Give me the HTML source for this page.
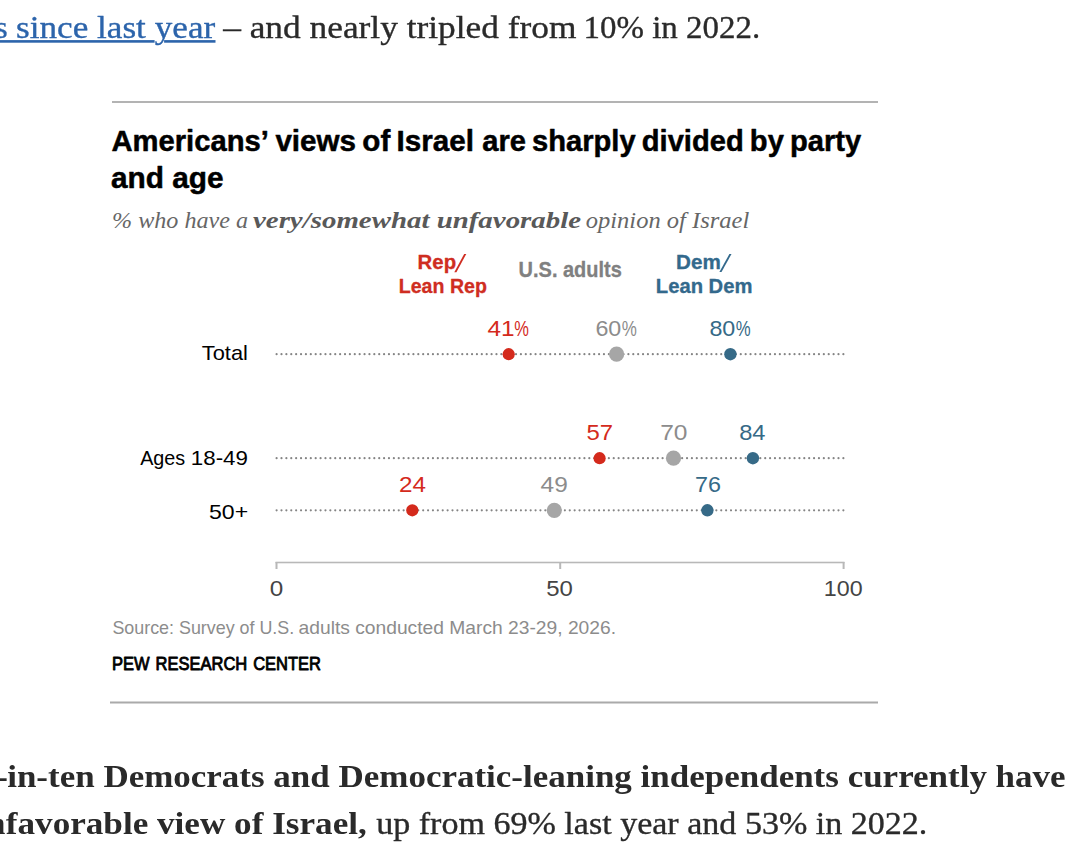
<!DOCTYPE html>
<html><head><meta charset="utf-8">
<style>
html,body{margin:0;padding:0;background:#fff;width:1080px;height:844px;overflow:hidden;}
svg{display:block;position:absolute;left:0;top:0;}
.gs{will-change:transform;}
</style></head><body>
<svg width="1080" height="844" viewBox="0 0 1080 844">

<rect x="112" y="101" width="766" height="2" fill="#b3b3b3"/>
<polygon points="454.3,272.2 456.4,272.2 466.3,253.9 464.2,253.9" fill="#cf2d21"/>
<polygon points="719.4,271.9 721.5,271.9 731.5,254.1 729.4,254.1" fill="#33698c"/>
<rect x="110" y="701.5" width="768" height="2" fill="#aaaaaa"/>
<g stroke="#858585" stroke-width="2.2" stroke-linecap="round" stroke-dasharray="0 4.886">
<line x1="276.6" y1="354.2" x2="844" y2="354.2"/>
<line x1="276.6" y1="458.2" x2="844" y2="458.2"/>
<line x1="276.6" y1="510.3" x2="844" y2="510.3"/>
</g>
<circle cx="508.7" cy="354.2" r="6.1" fill="#d42a1c"/>
<circle cx="616.6" cy="354.2" r="7.6" fill="#a6a6a6"/>
<circle cx="730.4" cy="354.2" r="6.2" fill="#366a87"/>
<circle cx="599.6" cy="458.2" r="6.1" fill="#d42a1c"/>
<circle cx="673.5" cy="458.2" r="7.6" fill="#a6a6a6"/>
<circle cx="752.9" cy="458.2" r="6.2" fill="#366a87"/>
<circle cx="412.3" cy="510.3" r="6.1" fill="#d42a1c"/>
<circle cx="554.3" cy="510.3" r="7.6" fill="#a6a6a6"/>
<circle cx="707.4" cy="510.3" r="6.2" fill="#366a87"/>
<g fill="#b8b8b8">
<rect x="275.5" y="561.7" width="569" height="1.6"/>
<rect x="275.5" y="562" width="2" height="7"/>
<rect x="559.2" y="562" width="2" height="7"/>
<rect x="842.6" y="562" width="2" height="7"/>
</g>

<text id="title1a" x="111.40" y="151.00" font-family="'Liberation Sans', sans-serif" font-size="30" fill="#000000" font-weight="bold" stroke="#000000" stroke-width="0.5" stroke-linejoin="round" textLength="157.45" lengthAdjust="spacingAndGlyphs">Americans’</text>
<text id="title1c" x="275.40" y="151.00" font-family="'Liberation Sans', sans-serif" font-size="30" fill="#000000" font-weight="bold" stroke="#000000" stroke-width="0.5" stroke-linejoin="round" textLength="198.61" lengthAdjust="spacingAndGlyphs" word-spacing="-2">views of Israel</text>
<text id="title1b" x="482.20" y="151.00" font-family="'Liberation Sans', sans-serif" font-size="30" fill="#000000" font-weight="bold" stroke="#000000" stroke-width="0.5" stroke-linejoin="round" textLength="379.01" lengthAdjust="spacingAndGlyphs" word-spacing="-2">are sharply divided by party</text>
<text id="title2" x="111.00" y="188.20" font-family="'Liberation Sans', sans-serif" font-size="30" fill="#000000" font-weight="bold" stroke="#000000" stroke-width="0.5" stroke-linejoin="round" textLength="112.63" lengthAdjust="spacingAndGlyphs">and age</text>
<text id="sub1" x="112.00" y="227.60" font-family="'Liberation Serif', serif" font-size="23.5" fill="#666666" font-style="italic" textLength="136.03" lengthAdjust="spacingAndGlyphs">% who have a</text>
<text id="sub2" x="253.00" y="227.60" font-family="'Liberation Serif', serif" font-size="23.5" fill="#595959" font-weight="bold" font-style="italic" textLength="328.01" lengthAdjust="spacingAndGlyphs">very/somewhat unfavorable</text>
<text id="sub3" x="585.80" y="227.60" font-family="'Liberation Serif', serif" font-size="23.5" fill="#666666" font-style="italic" textLength="163.41" lengthAdjust="spacingAndGlyphs">opinion of Israel</text>
<text id="rep1" x="417.60" y="268.50" font-family="'Liberation Sans', sans-serif" font-size="21" fill="#cf2d21" font-weight="bold" stroke="#cf2d21" stroke-width="0.3" stroke-linejoin="round" textLength="38.54" lengthAdjust="spacingAndGlyphs">Rep</text>
<text id="rep2" x="398.80" y="293.00" font-family="'Liberation Sans', sans-serif" font-size="21" fill="#cf2d21" font-weight="bold" stroke="#cf2d21" stroke-width="0.3" stroke-linejoin="round" textLength="88.04" lengthAdjust="spacingAndGlyphs">Lean Rep</text>
<text id="us" x="518.60" y="276.70" font-family="'Liberation Sans', sans-serif" font-size="21.5" fill="#808080" font-weight="bold" stroke="#808080" stroke-width="0.3" stroke-linejoin="round" textLength="103.22" lengthAdjust="spacingAndGlyphs">U.S. adults</text>
<text id="dem1" x="676.00" y="268.60" font-family="'Liberation Sans', sans-serif" font-size="21" fill="#33698c" font-weight="bold" stroke="#33698c" stroke-width="0.3" stroke-linejoin="round" textLength="44.74" lengthAdjust="spacingAndGlyphs">Dem</text>
<text id="dem2" x="655.80" y="293.30" font-family="'Liberation Sans', sans-serif" font-size="21" fill="#33698c" font-weight="bold" stroke="#33698c" stroke-width="0.3" stroke-linejoin="round" textLength="96.66" lengthAdjust="spacingAndGlyphs">Lean Dem</text>
<text id="total" x="201.80" y="360.20" font-family="'Liberation Sans', sans-serif" font-size="21" fill="#000000" textLength="46.11" lengthAdjust="spacingAndGlyphs">Total</text>
<text id="ages" x="140.20" y="465.30" font-family="'Liberation Sans', sans-serif" font-size="21" fill="#000000" textLength="45.04" lengthAdjust="spacingAndGlyphs">Ages</text>
<text id="ages2" x="190.80" y="465.30" font-family="'Liberation Sans', sans-serif" font-size="21" fill="#000000" textLength="57.13" lengthAdjust="spacingAndGlyphs">18-49</text>
<text id="fifty" x="209.00" y="519.40" font-family="'Liberation Sans', sans-serif" font-size="21" fill="#000000" textLength="39.13" lengthAdjust="spacingAndGlyphs">50+</text>
<text id="l41" x="487.40" y="335.80" font-family="'Liberation Sans', sans-serif" font-size="22" fill="#d42a1c" textLength="27.13" lengthAdjust="spacingAndGlyphs">41</text>
<text id="l41p" x="514.20" y="335.80" font-family="'Liberation Sans', sans-serif" font-size="21.5" fill="#d42a1c" textLength="14.65" lengthAdjust="spacingAndGlyphs">%</text>
<text id="l60" x="595.40" y="335.80" font-family="'Liberation Sans', sans-serif" font-size="22" fill="#8c8c8c" textLength="25.89" lengthAdjust="spacingAndGlyphs">60</text>
<text id="l60p" x="621.80" y="335.80" font-family="'Liberation Sans', sans-serif" font-size="21.5" fill="#8c8c8c" textLength="15.11" lengthAdjust="spacingAndGlyphs">%</text>
<text id="l80" x="709.40" y="335.80" font-family="'Liberation Sans', sans-serif" font-size="22" fill="#366a87" textLength="25.89" lengthAdjust="spacingAndGlyphs">80</text>
<text id="l80p" x="735.80" y="335.80" font-family="'Liberation Sans', sans-serif" font-size="21.5" fill="#366a87" textLength="14.89" lengthAdjust="spacingAndGlyphs">%</text>
<text id="l57" x="586.40" y="440.30" font-family="'Liberation Sans', sans-serif" font-size="22" fill="#d42a1c" textLength="26.62" lengthAdjust="spacingAndGlyphs">57</text>
<text id="l70" x="660.20" y="440.30" font-family="'Liberation Sans', sans-serif" font-size="22" fill="#8c8c8c" textLength="27.30" lengthAdjust="spacingAndGlyphs">70</text>
<text id="l84" x="739.20" y="440.30" font-family="'Liberation Sans', sans-serif" font-size="22" fill="#366a87" textLength="26.32" lengthAdjust="spacingAndGlyphs">84</text>
<text id="l24" x="399.00" y="491.80" font-family="'Liberation Sans', sans-serif" font-size="22" fill="#d42a1c" textLength="26.97" lengthAdjust="spacingAndGlyphs">24</text>
<text id="l49" x="540.60" y="491.80" font-family="'Liberation Sans', sans-serif" font-size="22" fill="#8c8c8c" textLength="27.22" lengthAdjust="spacingAndGlyphs">49</text>
<text id="l76" x="695.00" y="491.80" font-family="'Liberation Sans', sans-serif" font-size="22" fill="#366a87" textLength="25.98" lengthAdjust="spacingAndGlyphs">76</text>
<text id="ax0" x="269.80" y="595.60" font-family="'Liberation Sans', sans-serif" font-size="21.5" fill="#444444" textLength="13.50" lengthAdjust="spacingAndGlyphs">0</text>
<text id="ax50" x="546.20" y="595.60" font-family="'Liberation Sans', sans-serif" font-size="21.5" fill="#444444" textLength="26.63" lengthAdjust="spacingAndGlyphs">50</text>
<text id="ax100" x="823.80" y="595.60" font-family="'Liberation Sans', sans-serif" font-size="21.5" fill="#444444" textLength="38.76" lengthAdjust="spacingAndGlyphs">100</text>
<text id="src" x="112.40" y="633.60" font-family="'Liberation Sans', sans-serif" font-size="18.6" fill="#8c8c8c" textLength="181.83" lengthAdjust="spacingAndGlyphs">Source: Survey of U.S.</text>
<text id="src2" x="298.60" y="633.60" font-family="'Liberation Sans', sans-serif" font-size="18.6" fill="#8c8c8c" textLength="317.42" lengthAdjust="spacingAndGlyphs">adults conducted March 23-29, 2026.</text>
<text id="pew" x="112.00" y="669.70" font-family="'Liberation Sans', sans-serif" font-size="17.5" fill="#000000" stroke="#000000" stroke-width="0.85" stroke-linejoin="round" textLength="209.01" lengthAdjust="spacingAndGlyphs" word-spacing="1.5">PEW RESEARCH CENTER</text>
</svg>
<svg class="gs" width="1080" height="844" viewBox="0 0 1080 844">
<rect x="0" y="40.1" width="154.6" height="2.6" fill="#2c64ab"/>
<rect x="164.1" y="40.1" width="51.4" height="2.6" fill="#2c64ab"/>
<text id="link_s" x="-5.00" y="37.70" font-family="'Liberation Serif', serif" font-size="32.5" fill="#2c64ab" stroke="#2c64ab" stroke-width="0.35" stroke-linejoin="round">s</text>
<text id="link" x="16.00" y="37.70" font-family="'Liberation Serif', serif" font-size="32.5" fill="#2c64ab" stroke="#2c64ab" stroke-width="0.35" stroke-linejoin="round" textLength="199.21" lengthAdjust="spacingAndGlyphs">since last year</text>
<text id="rest" x="223.20" y="37.70" font-family="'Liberation Serif', serif" font-size="32.5" fill="#2a2a2a" stroke="#2a2a2a" stroke-width="0.35" stroke-linejoin="round" textLength="353.20" lengthAdjust="spacingAndGlyphs">– and nearly tripled from</text>
<text id="rest2" x="583.60" y="37.70" font-family="'Liberation Serif', serif" font-size="32.5" fill="#2a2a2a" stroke="#2a2a2a" stroke-width="0.35" stroke-linejoin="round" textLength="176.54" lengthAdjust="spacingAndGlyphs">10% in 2022.</text>
<text id="b1h" x="-3.00" y="786.90" font-family="'Liberation Serif', serif" font-size="32.5" fill="#2a2a2a" font-weight="bold">-</text>
<text id="b1" x="7.20" y="786.90" font-family="'Liberation Serif', serif" font-size="32.5" fill="#2a2a2a" font-weight="bold" textLength="1058.40" lengthAdjust="spacingAndGlyphs">in-ten Democrats and Democratic-leaning independents currently have</text>
<text id="b2n" x="-12.80" y="833.50" font-family="'Liberation Serif', serif" font-size="32.5" fill="#2a2a2a" font-weight="bold">n</text>
<text id="b2" x="5.80" y="833.50" font-family="'Liberation Serif', serif" font-size="32.5" fill="#2a2a2a" font-weight="bold" textLength="361.01" lengthAdjust="spacingAndGlyphs">favorable view of Israel,</text>
<text id="b3" x="376.20" y="833.50" font-family="'Liberation Serif', serif" font-size="32.5" fill="#2a2a2a" stroke="#2a2a2a" stroke-width="0.35" stroke-linejoin="round" textLength="551.21" lengthAdjust="spacingAndGlyphs">up from 69% last year and 53% in 2022.</text>
</svg>
</body></html>
